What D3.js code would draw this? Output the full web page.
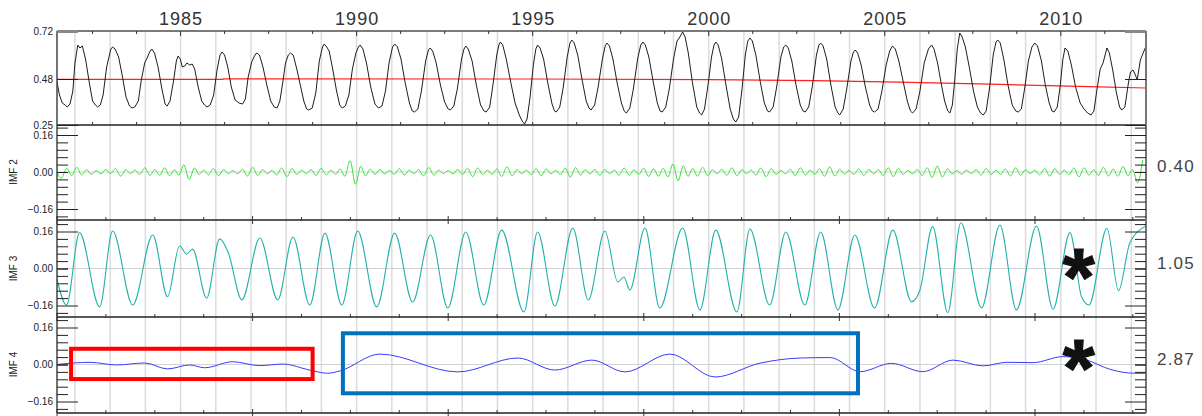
<!DOCTYPE html>
<html>
<head>
<meta charset="utf-8">
<script src="https://d3js.org/d3.v7.min.js"></script>
<style>
  body { margin: 0; background: #fff; }
  svg { display: block; font-family: "Liberation Sans", Arial, sans-serif; }
</style>
</head>
<body>
<svg id="chart" width="1202" height="416"></svg>
<script>
// ---- data ----
var yearLabels = [1985, 1990, 1995, 2000, 2005, 2010];
var gridYears = d3.range(1982, 2013);
var topTicks = [0.72, 0.48, 0.25];
var imfTicks = [0.16, 0.00, -0.16];
var imfNames = ["IMF 2", "IMF 3", "IMF 4"];
var imfPeriods = ["0.40", "1.05", "2.87"];

// top panel: [year, value]
var ndvi = [
  [1981.48,0.475],[1981.56,0.40],[1981.64,0.36],[1981.72,0.35],[1981.78,0.34],[1981.86,0.355],[1981.94,0.42],[1982.0,0.56],
  [1982.08,0.65],[1982.14,0.635],[1982.21,0.645],[1982.30,0.58],[1982.40,0.47],[1982.50,0.37],[1982.58,0.35],[1982.64,0.34],[1982.72,0.35],[1982.80,0.40],[1982.90,0.54],
  [1983.02,0.63],[1983.07,0.64],[1983.14,0.63],[1983.24,0.59],[1983.34,0.50],[1983.45,0.39],[1983.55,0.345],[1983.62,0.335],[1983.70,0.34],[1983.80,0.37],[1983.88,0.47],[1983.98,0.56],
  [1984.05,0.585],[1984.12,0.615],[1984.18,0.63],[1984.26,0.61],[1984.36,0.54],[1984.47,0.43],[1984.56,0.355],[1984.62,0.345],[1984.70,0.37],[1984.80,0.47],
  [1984.88,0.57],[1984.93,0.595],[1984.99,0.58],[1985.05,0.54],[1985.12,0.545],[1985.18,0.56],[1985.26,0.55],[1985.33,0.555],[1985.40,0.53],[1985.50,0.44],[1985.60,0.37],[1985.68,0.35],[1985.75,0.34],[1985.84,0.35],[1985.94,0.40],[1986.04,0.53],
  [1986.12,0.60],[1986.18,0.615],[1986.25,0.60],[1986.34,0.54],[1986.44,0.44],[1986.55,0.375],[1986.66,0.36],[1986.76,0.355],[1986.84,0.38],[1986.92,0.49],[1987.02,0.565],
  [1987.10,0.595],[1987.16,0.61],[1987.24,0.60],[1987.34,0.54],[1987.45,0.45],[1987.56,0.37],[1987.66,0.34],[1987.74,0.335],[1987.82,0.37],[1987.90,0.46],[1987.98,0.56],
  [1988.06,0.60],[1988.12,0.61],[1988.20,0.60],[1988.30,0.53],[1988.40,0.45],[1988.50,0.37],[1988.58,0.33],[1988.64,0.325],[1988.74,0.335],[1988.84,0.41],[1988.94,0.57],
  [1989.03,0.64],[1989.08,0.655],[1989.15,0.64],[1989.22,0.62],[1989.32,0.53],[1989.43,0.42],[1989.52,0.35],[1989.59,0.335],[1989.68,0.345],[1989.78,0.40],[1989.88,0.53],
  [1989.98,0.61],[1990.05,0.64],[1990.10,0.65],[1990.18,0.63],[1990.28,0.56],[1990.40,0.44],[1990.52,0.355],[1990.62,0.335],[1990.72,0.345],[1990.82,0.42],[1990.92,0.56],
  [1991.02,0.64],[1991.08,0.655],[1991.16,0.64],[1991.26,0.58],[1991.38,0.46],[1991.50,0.36],[1991.58,0.32],[1991.64,0.315],[1991.74,0.33],[1991.84,0.42],[1991.96,0.57],
  [1992.04,0.625],[1992.09,0.635],[1992.16,0.62],[1992.26,0.56],[1992.38,0.45],[1992.50,0.365],[1992.60,0.33],[1992.66,0.325],[1992.76,0.345],[1992.86,0.43],[1992.98,0.58],
  [1993.05,0.63],[1993.10,0.645],[1993.17,0.63],[1993.28,0.57],[1993.40,0.45],[1993.52,0.35],[1993.62,0.32],[1993.68,0.315],[1993.78,0.34],[1993.88,0.46],[1993.98,0.60],
  [1994.04,0.65],[1994.08,0.665],[1994.15,0.65],[1994.25,0.58],[1994.37,0.47],[1994.50,0.36],[1994.62,0.30],[1994.70,0.27],[1994.77,0.255],[1994.84,0.28],[1994.92,0.38],[1995.02,0.55],
  [1995.09,0.63],[1995.14,0.65],[1995.21,0.635],[1995.31,0.58],[1995.43,0.46],[1995.55,0.355],[1995.62,0.32],[1995.67,0.315],[1995.77,0.34],[1995.87,0.44],[1995.98,0.59],
  [1996.06,0.66],[1996.11,0.675],[1996.18,0.66],[1996.28,0.60],[1996.40,0.48],[1996.52,0.37],[1996.60,0.335],[1996.66,0.325],[1996.76,0.35],[1996.86,0.44],[1996.98,0.58],
  [1997.06,0.645],[1997.11,0.66],[1997.18,0.645],[1997.28,0.58],[1997.40,0.46],[1997.52,0.36],[1997.60,0.32],[1997.66,0.31],[1997.76,0.335],[1997.86,0.43],[1997.98,0.58],
  [1998.07,0.65],[1998.13,0.665],[1998.20,0.65],[1998.30,0.59],[1998.42,0.47],[1998.54,0.36],[1998.62,0.32],[1998.68,0.315],[1998.78,0.34],[1998.88,0.43],[1999.0,0.58],
  [1999.10,0.67],[1999.18,0.69],[1999.26,0.715],[1999.33,0.69],[1999.42,0.61],[1999.54,0.46],[1999.66,0.34],[1999.74,0.31],[1999.80,0.30],[1999.88,0.33],[1999.98,0.45],[2000.08,0.59],
  [2000.15,0.65],[2000.20,0.665],[2000.27,0.65],[2000.37,0.58],[2000.49,0.45],[2000.61,0.33],[2000.70,0.28],[2000.77,0.265],[2000.85,0.29],[2000.94,0.42],[2001.04,0.60],
  [2001.11,0.67],[2001.17,0.685],[2001.24,0.67],[2001.34,0.60],[2001.46,0.47],[2001.58,0.36],[2001.67,0.32],[2001.73,0.315],[2001.83,0.34],[2001.93,0.44],[2002.05,0.59],
  [2002.13,0.64],[2002.19,0.65],[2002.26,0.635],[2002.36,0.57],[2002.48,0.45],[2002.60,0.35],[2002.68,0.32],[2002.74,0.315],[2002.84,0.34],[2002.94,0.44],[2003.06,0.60],
  [2003.13,0.65],[2003.18,0.66],[2003.25,0.645],[2003.35,0.58],[2003.47,0.45],[2003.59,0.34],[2003.67,0.31],[2003.72,0.30],[2003.82,0.33],[2003.92,0.43],[2004.04,0.57],
  [2004.11,0.615],[2004.16,0.625],[2004.23,0.61],[2004.33,0.55],[2004.45,0.44],[2004.57,0.35],[2004.65,0.32],[2004.71,0.315],[2004.81,0.33],[2004.92,0.42],[2005.04,0.55],
  [2005.14,0.62],[2005.22,0.645],[2005.30,0.63],[2005.40,0.57],[2005.52,0.47],[2005.64,0.37],[2005.73,0.32],[2005.79,0.31],[2005.89,0.33],[2006.0,0.42],[2006.12,0.56],
  [2006.24,0.63],[2006.33,0.65],[2006.40,0.63],[2006.50,0.56],[2006.60,0.46],[2006.70,0.37],[2006.79,0.32],[2006.85,0.31],[2006.92,0.35],[2006.99,0.48],[2007.06,0.63],
  [2007.13,0.71],[2007.20,0.69],[2007.29,0.64],[2007.40,0.54],[2007.52,0.42],[2007.63,0.34],[2007.72,0.31],[2007.80,0.30],[2007.88,0.32],[2007.98,0.44],[2008.08,0.60],
  [2008.16,0.665],[2008.21,0.675],[2008.28,0.66],[2008.38,0.58],[2008.50,0.45],[2008.62,0.35],[2008.72,0.32],[2008.79,0.315],[2008.88,0.33],[2008.98,0.44],[2009.08,0.57],
  [2009.18,0.64],[2009.26,0.66],[2009.34,0.645],[2009.45,0.57],[2009.56,0.45],[2009.67,0.36],[2009.75,0.32],[2009.81,0.315],[2009.90,0.34],[2009.98,0.44],[2010.06,0.58],
  [2010.12,0.635],[2010.20,0.62],[2010.30,0.55],[2010.42,0.44],[2010.55,0.36],[2010.66,0.33],[2010.76,0.31],[2010.86,0.30],[2010.94,0.32],[2011.03,0.43],[2011.12,0.53],
  [2011.20,0.56],[2011.31,0.635],[2011.38,0.61],[2011.48,0.52],[2011.58,0.41],[2011.67,0.34],[2011.73,0.325],[2011.82,0.34],[2011.92,0.46],
  [2011.98,0.515],[2012.05,0.525],[2012.12,0.50],[2012.17,0.475],[2012.26,0.575],[2012.34,0.61],[2012.42,0.645]
];

// red trend line on the top panel
var trend = [[1981.49,0.478],[1986.2,0.478],[1986.21,0.481],[1995,0.480],[2000,0.477],[2003,0.472],
             [2005.4,0.464],[2008.3,0.453],[2010.8,0.442],[2012.42,0.435]];

// IMF 2: one value every 5 dekads from the start
var imf2Start = 1981.49, imf2Step = 5 / 36;
var imf2 = [
  0.000,-0.024,0.016,-0.016,0.020,-0.012,0.010,-0.010,0.006,-0.008,
  0.011,-0.007,0.014,-0.018,0.010,-0.007,0.008,-0.010,0.018,-0.015,
  0.011,-0.014,0.018,-0.016,0.010,-0.012,0.030,-0.032,0.016,-0.010,
  0.008,-0.012,0.015,-0.016,0.010,-0.007,0.006,-0.008,0.011,-0.017,
  0.020,-0.015,0.010,-0.008,0.007,-0.012,0.017,-0.020,0.014,-0.010,
  0.008,-0.007,0.010,-0.014,0.016,-0.012,0.008,-0.010,0.012,-0.015,
  0.048,-0.052,0.022,-0.016,0.012,-0.010,0.011,-0.008,0.007,-0.010,
  0.014,-0.013,0.008,-0.007,0.010,-0.016,0.019,-0.013,0.008,-0.007,
  0.006,-0.008,0.011,-0.010,0.016,-0.020,0.017,-0.011,0.008,-0.010,
  0.013,-0.019,0.022,-0.016,0.010,-0.007,0.008,-0.011,0.014,-0.017,
  0.013,-0.008,0.007,-0.010,0.016,-0.022,0.019,-0.013,0.010,-0.008,
  0.011,-0.014,0.010,-0.007,0.008,-0.013,0.017,-0.014,0.010,-0.011,
  0.016,-0.019,0.014,-0.018,0.016,-0.020,0.034,-0.038,0.026,-0.018,
  0.015,-0.018,0.020,-0.015,0.010,-0.008,0.011,-0.014,0.018,-0.015,
  0.010,-0.007,0.008,-0.012,0.017,-0.020,0.014,-0.010,0.007,-0.008,
  0.011,-0.015,0.018,-0.013,0.008,-0.010,0.014,-0.018,0.022,-0.017,
  0.011,-0.008,0.007,-0.010,0.013,-0.015,0.011,-0.008,0.010,-0.014,
  0.018,-0.020,0.015,-0.010,0.007,-0.008,0.011,-0.015,0.018,-0.024,
  0.026,-0.021,0.013,-0.008,0.007,-0.010,0.008,-0.007,0.010,-0.013,
  0.015,-0.011,0.008,-0.010,0.013,-0.017,0.018,-0.014,0.010,-0.007,
  0.008,-0.012,0.015,-0.018,0.014,-0.010,0.008,-0.011,0.017,-0.021,
  0.018,-0.013,0.010,-0.015,0.020,-0.017,0.013,-0.018,0.024,-0.016,
  0.010,-0.046,0.052
];

// IMF 3: [year, value] at peaks, troughs and shoulders
var imf3 = [
  [1981.48,-0.041],[1981.76,-0.158],[1982.13,0.155],[1982.70,-0.166],[1983.07,0.162],[1983.64,-0.158],
  [1984.21,0.145],[1984.63,-0.122],[1984.97,0.097],[1985.17,0.063],[1985.34,0.084],[1985.74,-0.128],
  [1986.11,0.128],[1986.36,0.066],[1986.74,-0.136],[1987.25,0.132],[1987.76,-0.136],[1988.19,0.136],
  [1988.67,-0.158],[1989.10,0.153],[1989.58,-0.158],[1990.03,0.162],[1990.57,-0.166],[1991.08,0.153],
  [1991.59,-0.145],[1992.10,0.145],[1992.59,-0.171],[1993.10,0.158],[1993.61,-0.158],[1994.12,0.166],
  [1994.75,-0.188],[1995.14,0.158],[1995.63,-0.162],[1996.14,0.175],[1996.58,-0.136],[1997.05,0.162],
  [1997.42,-0.058],[1997.59,-0.037],[1997.76,-0.093],[1998.19,0.175],[1998.61,-0.171],[1999.26,0.175],
  [1999.75,-0.179],[2000.20,0.166],[2000.80,-0.188],[2001.17,0.171],[2001.73,-0.158],[2002.19,0.158],
  [2002.73,-0.158],[2003.18,0.158],[2003.67,-0.179],[2004.15,0.145],[2004.71,-0.171],[2005.23,0.166],
  [2005.76,-0.144],[2006.00,-0.093],[2006.36,0.181],[2006.79,-0.191],[2007.16,0.198],[2007.75,-0.170],
  [2008.27,0.188],[2008.74,-0.179],[2009.31,0.184],[2009.78,-0.176],[2010.26,0.155],[2010.59,-0.122],
  [2010.80,-0.158],[2011.31,0.174],[2011.64,-0.096],[2011.96,0.110],[2012.42,0.184]
];

// IMF 4
var imf4 = [
  [1981.48,0.0],[1982.42,0.0095],[1983.18,-0.002],[1983.98,0.0065],[1984.63,-0.019],[1985.26,-0.002],
  [1985.68,-0.014],[1986.48,0.012],[1987.25,-0.005],[1987.90,0.002],[1988.67,-0.024],[1989.18,-0.038],
  [1989.52,-0.028],[1990.66,0.045],[1992.87,-0.032],[1994.58,0.028],[1995.63,-0.024],[1996.68,0.019],
  [1997.62,-0.032],[1998.90,0.045],[2000.18,-0.054],[2001.46,0.006],[2002.60,0.028],[2003.45,0.030],
  [2004.30,-0.031],[2005.19,0.005],[2006.08,-0.031],[2006.94,0.019],[2007.79,-0.006],[2008.47,0.0095],
  [2009.21,0.008],[2010.06,0.034],[2010.74,0.019],[2011.40,-0.021],[2012.11,-0.038],[2012.42,-0.038]
];

// annotation boxes on IMF 4: [year0, year1, vTop, vBottom]
var redBox = [1981.89, 1988.75, 0.068, -0.063];
var blueBox = [1989.61, 2004.24, 0.135, -0.1245];
// asterisks: [panel index, year, value]
var stars = [[1, 2010.51, 0.011], [2, 2010.51, 0.032]];

// ---- layout ----
var svg = d3.select("#chart");
var L = 57, R = 1146;
var edges = [31, 125, 220, 317, 413];

var x = d3.scaleLinear().domain([1981.49, 2012.42]).range([L, R]);
var dk = d3.scaleLinear().domain([0, 1113.5]).range([L, R]);
var yTop = d3.scaleLinear().domain([0.25, 0.72]).range([125, 31]);
var imfY = [172, 268.5, 364.5].map(function(c) {
  return d3.scaleLinear().domain([-0.16, 0.16]).range([c + 37, c - 37]);
});

svg.append("rect").attr("width", 1202).attr("height", 416).attr("fill", "#fff");

svg.append("clipPath").attr("id", "plot")
  .append("rect").attr("x", L).attr("y", edges[0]).attr("width", R - L).attr("height", edges[4] - edges[0]);

// year grid
svg.append("g").selectAll("line").data(gridYears).join("line")
  .attr("x1", function(d) { return x(d); }).attr("x2", function(d) { return x(d); })
  .attr("y1", edges[0]).attr("y2", edges[4])
  .attr("stroke", "#dcdcdc").attr("stroke-width", 1.5);

// zero lines
imfY.forEach(function(y) {
  svg.append("line").attr("x1", L).attr("x2", R).attr("y1", y(0)).attr("y2", y(0))
    .attr("stroke", "#d2d2d2").attr("stroke-width", 1);
});

// series
var plot = svg.append("g").attr("clip-path", "url(#plot)").attr("fill", "none");
var lineTop = d3.line().x(function(d) { return x(d[0]); }).y(function(d) { return yTop(d[1]); });
plot.append("path").datum(trend).attr("d", lineTop).attr("stroke", "#ff2020").attr("stroke-width", 1.2);
plot.append("path").datum(ndvi).attr("d", lineTop).attr("stroke", "#1e1e1e").attr("stroke-width", 1);

plot.append("path").datum(imf2)
  .attr("d", d3.line().curve(d3.curveNatural)
    .x(function(d, i) { return x(imf2Start + i * imf2Step); })
    .y(function(d) { return imfY[0](d); }))
  .attr("stroke", "#33e633").attr("stroke-width", 1);

plot.append("path").datum(imf3)
  .attr("d", d3.line().curve(d3.curveMonotoneX)
    .x(function(d) { return x(d[0]); }).y(function(d) { return imfY[1](d[1]); }))
  .attr("stroke", "#23b2ab").attr("stroke-width", 1.1);

plot.append("path").datum(imf4)
  .attr("d", d3.line().curve(d3.curveMonotoneX)
    .x(function(d) { return x(d[0]); }).y(function(d) { return imfY[2](d[1]); }))
  .attr("stroke", "#3b3bff").attr("stroke-width", 1);

// frame
var frame = svg.append("g").attr("stroke-width", 1.5);
edges.forEach(function(e, i) {
  frame.append("line").attr("x1", L).attr("x2", R).attr("y1", e).attr("y2", e)
    .attr("stroke", i === 0 ? "#7a7a7a" : "#222").attr("stroke-width", i === 0 ? 2 : 1.5);
});
frame.append("line").attr("x1", L).attr("x2", L).attr("y1", edges[0]).attr("y2", edges[4]).attr("stroke", "#444");
frame.append("line").attr("x1", R).attr("x2", R).attr("y1", edges[0]).attr("y2", edges[4]).attr("stroke", "#777").attr("stroke-width", 2);

// top year axis
var topAxis = svg.append("g").attr("transform", "translate(0," + edges[0] + ")")
  .call(d3.axisTop(x).tickValues(yearLabels).tickSize(0).tickPadding(6).tickFormat(d3.format("d")));
topAxis.select(".domain").remove();
topAxis.selectAll("text").attr("font-size", 18).attr("fill", "#333").attr("letter-spacing", 1)
  .attr("font-family", "Liberation Sans, Arial, sans-serif");

// small year ticks on the top panel borders
var yrTicks = d3.range(1982.5, 2012.5, 1.25);
[edges[0], edges[1]].forEach(function(e, j) {
  svg.append("g").selectAll("line").data(yrTicks).join("line")
    .attr("x1", function(d) { return x(d); }).attr("x2", function(d) { return x(d); })
    .attr("y1", j === 0 ? e : e - 3).attr("y2", function(d) { return e + (d % 5 === 0 ? 5 : 3) * (j === 0 ? 1 : 0); })
    .attr("stroke", "#333").attr("stroke-width", 1);
});

// dekad ticks on the IMF borders
var dkTicks = d3.range(0, 1114, 50);
[edges[2], edges[3], edges[4]].forEach(function(e) {
  svg.append("g").selectAll("line").data(dkTicks).join("line")
    .attr("x1", function(d) { return dk(d); }).attr("x2", function(d) { return dk(d); })
    .attr("y1", function(d) { return e - (d % 200 === 0 ? 4 : 3); })
    .attr("y2", function(d) { return e + (d % 200 === 0 ? 4 : 1); })
    .attr("stroke", "#333").attr("stroke-width", 1);
});

function styleAxis(g) {
  g.select(".domain").remove();
  g.selectAll(".tick line").attr("stroke", "#222");
  g.selectAll("text").attr("font-size", 10).attr("fill", "#222")
    .attr("font-family", "Liberation Sans, Arial, sans-serif");
}

// left / right axes on the top panel
svg.append("g").attr("transform", "translate(" + L + ",0)")
  .call(d3.axisLeft(yTop).tickValues(topTicks).tickSize(-21).tickPadding(4).tickFormat(d3.format(".2f")))
  .call(styleAxis)
  .call(function(g) { g.selectAll(".tick line").filter(function(d) { return d === 0.72; }).attr("stroke", "#888").attr("stroke-width", 3); });
svg.append("g").attr("transform", "translate(" + R + ",0)")
  .call(d3.axisRight(yTop).tickValues(topTicks).tickSize(-21).tickFormat(""))
  .call(styleAxis)
  .call(function(g) { g.selectAll(".tick line").filter(function(d) { return d === 0.72; }).attr("stroke", "#888").attr("stroke-width", 3); });

// IMF panels
var minor = d3.range(-6, 7).filter(function(k) { return Math.abs(k) !== 5; }).map(function(k) { return k * 0.032; });
imfY.forEach(function(y, i) {
  svg.append("g").attr("transform", "translate(" + L + ",0)")
    .call(d3.axisLeft(y).tickValues(imfTicks).tickSize(-21).tickPadding(4).tickFormat(d3.format(".2f")))
    .call(styleAxis)
    .call(function(g) { g.selectAll(".tick line").filter(function(d) { return d === 0; }).attr("x2", 11); });
  svg.append("g").attr("transform", "translate(" + L + ",0)")
    .call(d3.axisLeft(y).tickValues(minor).tickSize(-11).tickFormat(""))
    .call(styleAxis);
  svg.append("g").attr("transform", "translate(" + R + ",0)")
    .call(d3.axisRight(y).tickValues(imfTicks.filter(function(d) { return d !== 0; })).tickSize(-21).tickFormat(""))
    .call(styleAxis);
  svg.append("g").attr("transform", "translate(" + R + ",0)")
    .call(d3.axisRight(y).tickValues(minor.concat([0])).tickSize(-11).tickFormat(""))
    .call(styleAxis);

  svg.append("text")
    .attr("transform", "translate(17," + y(0) + ") rotate(-90)")
    .attr("text-anchor", "middle").attr("font-size", 10).attr("fill", "#222")
    .text(imfNames[i]);

  svg.append("text")
    .attr("x", 1157).attr("y", y(0))
    .attr("font-size", 17).attr("letter-spacing", 1.2).attr("fill", "#444")
    .text(imfPeriods[i]);
});

// annotation boxes
[[redBox, "#ff0000"], [blueBox, "#0070c0"]].forEach(function(b) {
  var d = b[0];
  svg.append("rect")
    .attr("x", x(d[0])).attr("y", imfY[2](d[2]))
    .attr("width", x(d[1]) - x(d[0])).attr("height", imfY[2](d[3]) - imfY[2](d[2]))
    .attr("fill", "none").attr("stroke", b[1]).attr("stroke-width", 4);
});

// asterisks
svg.append("g").selectAll("text").data(stars).join("text")
  .attr("x", function(d) { return x(d[1]); })
  .attr("y", function(d) { return imfY[d[0]](d[2]); })
  .attr("dy", "0.48em")
  .attr("text-anchor", "middle")
  .attr("font-size", 82).attr("font-weight", "bold").attr("fill", "#111")
  .attr("stroke", "#111").attr("stroke-width", 1.2)
  .text("*");
</script>
</body>
</html>
